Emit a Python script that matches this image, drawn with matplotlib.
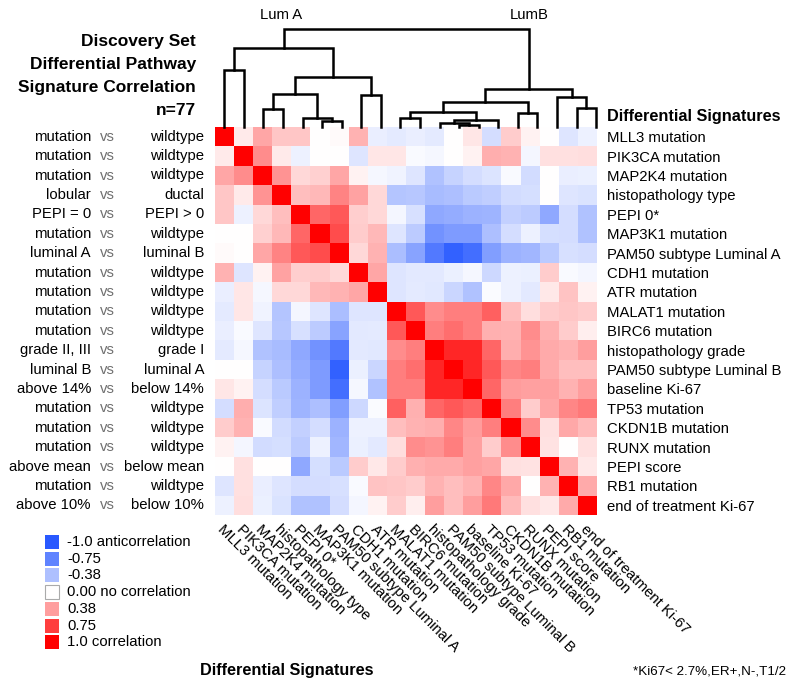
import matplotlib
matplotlib.use('Agg')
import matplotlib.pyplot as plt
import numpy as np
from matplotlib.colors import LinearSegmentedColormap
from matplotlib.patches import Rectangle
from matplotlib.transforms import blended_transform_factory

plt.rcParams['font.family'] = ['Liberation Sans', 'DejaVu Sans']

signatures = ["MLL3 mutation", "PIK3CA mutation", "MAP2K4 mutation", "histopathology type",
              "PEPI 0*", "MAP3K1 mutation", "PAM50 subtype Luminal A", "CDH1 mutation",
              "ATR mutation", "MALAT1 mutation", "BIRC6 mutation", "histopathology grade",
              "PAM50 subtype Luminal B", "baseline Ki-67", "TP53 mutation", "CKDN1B mutation",
              "RUNX mutation", "PEPI score", "RB1 mutation", "end of treatment Ki-67"]

left_a = ["mutation", "mutation", "mutation", "lobular", "PEPI = 0", "mutation", "luminal A",
          "mutation", "mutation", "mutation", "mutation", "grade II, III", "luminal B",
          "above 14%", "mutation", "mutation", "mutation", "above mean", "mutation", "above 10%"]
left_b = ["wildtype", "wildtype", "wildtype", "ductal", "PEPI > 0", "wildtype", "luminal B",
          "wildtype", "wildtype", "wildtype", "wildtype", "grade I", "luminal A",
          "below 14%", "wildtype", "wildtype", "wildtype", "below mean", "wildtype", "below 10%"]

corr = np.array([
    [1, .08, .35, .22, .22, 0, .02, .3, -.1, -.12, -.1, -.12, 0, .1, -.2, .2, .05, 0, -.15, -.08],
    [.08, 1, .45, .08, -.08, 0, 0, -.15, .1, .1, -.03, -.04, 0, .05, .32, .3, -.05, .12, .12, .13],
    [.35, .45, 1, .42, .15, .18, .35, .05, -.04, -.07, -.15, -.36, -.26, -.2, -.16, -.03, -.21, 0, -.1, -.09],
    [.22, .08, .42, 1, .25, .28, .48, .36, .15, -.35, -.33, -.4, -.38, -.32, -.29, -.21, -.19, 0, -.15, -.17],
    [.22, -.08, .15, .25, 1, .6, .65, .19, .15, -.05, -.18, -.52, -.5, -.46, -.45, -.28, -.31, -.52, -.2, -.36],
    [0, 0, .18, .28, .6, 1, .7, .2, .28, -.15, -.31, -.65, -.6, -.6, -.38, -.2, -.08, -.19, -.2, -.36],
    [.02, 0, .35, .48, .65, .7, 1, .15, .3, -.39, -.55, -.8, -.95, -.87, -.58, -.46, -.43, -.32, -.18, -.2],
    [.3, -.15, .05, .36, .19, .2, .15, 1, .35, -.15, -.13, -.13, -.09, -.04, -.23, -.08, -.09, .2, -.03, -.05],
    [-.1, .1, -.04, .15, .15, .28, .3, .35, 1, -.15, -.12, -.14, -.25, -.36, -.02, -.08, -.13, .09, .23, .05],
    [-.12, .1, -.07, -.35, -.05, -.15, -.39, -.15, -.15, 1, .65, .45, .5, .5, .62, .25, .13, .2, .22, .2],
    [-.1, -.03, -.15, -.33, -.18, -.31, -.55, -.13, -.12, .65, 1, .5, .57, .5, .31, .3, .45, .31, .2, .07],
    [-.12, -.04, -.36, -.4, -.52, -.65, -.8, -.13, -.14, .45, .5, 1, .85, .85, .6, .32, .42, .33, .3, .38],
    [0, 0, -.26, -.38, -.5, -.6, -.95, -.09, -.25, .5, .57, .85, 1, .85, .65, .47, .5, .33, .25, .25],
    [.1, .05, -.2, -.32, -.46, -.6, -.87, -.04, -.36, .5, .5, .85, .85, 1, .6, .39, .37, .37, .3, .38],
    [-.2, .32, -.16, -.29, -.45, -.38, -.58, -.23, -.02, .62, .31, .6, .65, .6, 1, .5, .2, .35, .47, .52],
    [.2, .3, -.03, -.21, -.28, -.2, -.46, -.08, -.08, .25, .3, .32, .47, .39, .5, 1, .45, .12, .34, .27],
    [.05, -.05, -.21, -.19, -.31, -.08, -.43, -.09, -.13, .13, .45, .42, .5, .37, .2, .45, 1, .11, 0, .12],
    [0, .12, 0, 0, -.52, -.19, -.32, .2, .09, .2, .31, .33, .33, .37, .35, .12, .11, 1, .3, .09],
    [-.15, .12, -.1, -.15, -.2, -.2, -.18, -.03, .23, .22, .2, .3, .25, .3, .47, .34, 0, .3, 1, .33],
    [-.08, .13, -.09, -.17, -.36, -.36, -.2, -.05, .05, .2, .07, .38, .25, .38, .52, .27, .12, .09, .33, 1],
])

# dendrogram merges: (child a, child b, height); leaves 0-19, internal nodes numbered from 20
merges = [
    (0, 1, 57), (2, 3, 18), (5, 6, 6), (4, 22, 9), (21, 23, 33), (7, 8, 32),
    (24, 25, 50), (20, 26, 79), (9, 10, 9), (12, 13, 2.5), (11, 29, 4), (30, 14, 7),
    (28, 31, 15), (15, 16, 14), (32, 33, 25), (18, 19, 19), (17, 35, 30), (34, 36, 38),
    (27, 37, 98),
]

legend_vals = [-1.0, -0.75, -0.38, 0.0, 0.38, 0.75, 1.0]
legend_labels = ["-1.0 anticorrelation", "-0.75", "-0.38", "0.00 no correlation",
                 "0.38", "0.75", "1.0 correlation"]

cmap = LinearSegmentedColormap.from_list(
    "bwr_custom", [(0.0, (0.16, 0.35, 1.0)), (0.5, (1, 1, 1)), (1.0, (1.0, 0.0, 0.0))])

W, H = 795, 691
fig = plt.figure(figsize=(W / 100, H / 100), dpi=100)

# overlay axes in pixel coordinates
ov = fig.add_axes([0, 0, 1, 1])
ov.set_xlim(0, W)
ov.set_ylim(H, 0)
ov.axis('off')

# heatmap
hx0, hx1, hy0, hy1 = 215, 597, 127, 515
axh = fig.add_axes([hx0 / W, (H - hy1) / H, (hx1 - hx0) / W, (hy1 - hy0) / H])
axh.imshow(corr, cmap=cmap, vmin=-1, vmax=1, aspect='auto', interpolation='nearest')
for s in axh.spines.values():
    s.set_visible(False)
n = len(signatures)
axh.set_xticks(range(n))
axh.set_xticklabels(signatures, rotation=-45, ha='left', va='top',
                    rotation_mode='anchor', fontsize=10.7)
axh.yaxis.tick_right()
axh.set_yticks(range(n))
axh.set_yticklabels(signatures, fontsize=10.7)
axh.tick_params(length=0)
axh.tick_params(axis='x', pad=5)
axh.tick_params(axis='y', pad=7)

# left labels
tr = blended_transform_factory(ov.transData, axh.transData)
for i in range(n):
    axh.text(91, i, left_a[i], transform=tr, ha='right', va='center', fontsize=10.7)
    axh.text(107.5, i, "vs", transform=tr, ha='center', va='center', fontsize=10.7,
             color='#707070')
    axh.text(204, i, left_b[i], transform=tr, ha='right', va='center', fontsize=10.7)

# dendrogram
dx0, dx1, dy0 = 214.5, 606, 20
axd = fig.add_axes([dx0 / W, (H - hy0) / H, (dx1 - dx0) / W, (hy0 - dy0) / H])
axd.set_xlim(0, n)
axd.set_ylim(0, hy0 - dy0)
axd.axis('off')
pos = {i: i + 0.5 for i in range(n)}
hgt = {i: 0.0 for i in range(n)}
for k, (a, b, h) in enumerate(merges):
    node = n + k
    xa, xb = pos[a], pos[b]
    axd.plot([xa, xa, xb, xb], [hgt[a], h, h, hgt[b]], color='black', lw=1.8,
             solid_joinstyle='miter', clip_on=False)
    pos[node] = (xa + xb) / 2
    hgt[node] = h

ov.text(281, 15, "Lum A", ha='center', va='center', fontsize=10.7)
ov.text(529, 15, "LumB", ha='center', va='center', fontsize=10.7)

# title
for yy, t in zip([41, 64, 87, 110], ["Discovery Set", "Differential Pathway",
                                      "Signature Correlation", "n=77"]):
    ov.text(196, yy, t, ha='right', va='center', fontsize=12.5, fontweight='bold')

ov.text(607, 116, "Differential Signatures", ha='left', va='center', fontsize=11.7,
        fontweight='bold')
ov.text(287, 671, "Differential Signatures", ha='center', va='center', fontsize=11.7,
        fontweight='bold')
ov.text(786, 671, "*Ki67< 2.7%,ER+,N-,T1/2", ha='right', va='center', fontsize=9.6)

# legend
for k, (v, lab) in enumerate(zip(legend_vals, legend_labels)):
    yc = 542 + 16.7 * k
    ov.add_patch(Rectangle((45, yc - 7), 14, 14, facecolor=cmap((v + 1) / 2),
                           edgecolor='#aaaaaa' if v == 0 else 'none', lw=0.8))
    ov.text(67, yc, lab, ha='left', va='center', fontsize=10.7)

fig.savefig("out.png", dpi=100)
